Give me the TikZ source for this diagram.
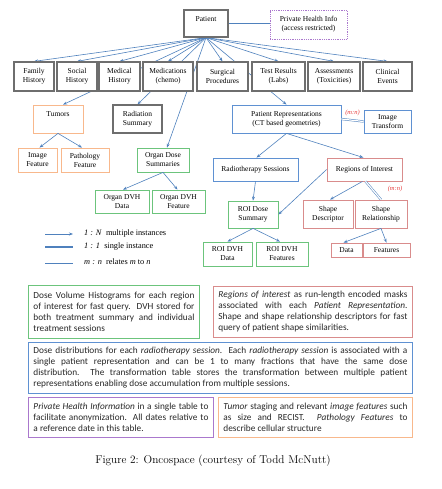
\documentclass[tikz,border=0pt]{standalone}
\usepackage{fontspec}
\newfontfamily\tnr{Liberation Serif}
\newfontfamily\clb{Carlito}
\usetikzlibrary{arrows.meta,backgrounds}
\definecolor{ablue}{RGB}{79,129,189}
\definecolor{bgray}{RGB}{110,110,110}
\definecolor{borange}{RGB}{248,184,140}
\definecolor{bgreen}{RGB}{108,196,124}
\definecolor{bblue}{RGB}{95,145,210}
\definecolor{bred}{RGB}{217,140,140}
\definecolor{bpurple}{RGB}{170,120,205}
\definecolor{mnred}{RGB}{230,60,60}
\definecolor{txt}{RGB}{40,40,40}
\tikzset{
  box/.style={draw, fill=white, inner sep=1pt, align=center, line width=0.8pt,
    font=\tnr\fontsize{7.5}{9}\selectfont},
  sz/.style 2 args={minimum width=#1pt, minimum height=#2pt},
  gbox/.style={box, draw=bgray, line width=1.2pt},
  obox/.style={box, draw=borange},
  grbox/.style={box, draw=bgreen},
  blbox/.style={box, draw=bblue},
  rbox/.style={box, draw=bred},
  pbox/.style={box, draw=bpurple, densely dotted, line width=0.9pt},
  arr/.style={draw=ablue, line width=0.6pt, -{Stealth[length=4pt,width=3pt]}},
  one/.style={draw=ablue, line width=1pt},
  mn/.style={draw=ablue, line width=0.5pt, double=white, double distance=1.2pt},
  mnlab/.style={text=mnred, font=\tnr\itshape\fontsize{6.5}{7}\selectfont, inner sep=0pt},
  leg/.style={anchor=west, inner sep=0pt, font=\tnr\fontsize{8.3}{9}\selectfont},
  note/.style={draw, fill=white, anchor=north west, line width=0.9pt, inner xsep=5pt, inner ysep=4pt,
    align=justify, font=\clb\fontsize{9.3}{11}\selectfont, text=txt},
}
\begin{document}
\begin{tikzpicture}[x=1pt,y=-1pt]
\useasboundingbox (0,0) rectangle (441,489);
% top
\node[box, draw=bgray, line width=1.2pt, sz={44}{27}] (patient) at (206,23.5) {Patient\\ \mbox{}};
\node[pbox, sz={77}{29}] (phi) at (308.5,24.5) {Private Health Info\\(access restricted)};
% row
\node[gbox, sz={40}{29}] (fam) at (34,76.5) {Family\\History};
\node[gbox, sz={40}{29}] (soc) at (77,76.5) {Social\\History};
\node[gbox, sz={41}{29}] (med) at (119.5,76.5) {Medical\\History};
\node[gbox, sz={50}{29}] (meds) at (168,76.5) {Medications\\(chemo)};
\node[gbox, sz={51}{29}] (surg) at (222.5,76.5) {Surgical\\Procedures};
\node[gbox, sz={53}{29}] (test) at (278.5,76.5) {Test Results\\(Labs)};
\node[gbox, sz={52}{29}] (assess) at (334,76.5) {Assessments\\(Toxicities)};
\node[gbox, sz={49}{29}] (clin) at (387.5,76.5) {Clinical\\Events};
% left branch
\node[obox, sz={50}{28}] (tumors) at (58,119) {Tumors\\ \mbox{}};
\node[obox, sz={39}{24}] (imgfeat) at (37.5,160) {Image\\Feature};
\node[obox, sz={48}{24}] (pathfeat) at (85,160) {Pathology\\Feature};
\node[gbox, sz={49}{28}] (radsum) at (137.5,119) {Radiation\\Summary};
\node[grbox, sz={52}{24}] (ods) at (163,160) {Organ Dose\\Summaries};
\node[grbox, sz={54}{23}] (odvhd) at (122,201.5) {Organ DVH\\Data};
\node[grbox, sz={53}{23}] (odvhf) at (178.5,201.5) {Organ DVH\\Feature};
% right branch
\node[blbox, sz={109}{28}] (pr) at (286.5,119) {Patient Representations\\(CT based geometries)};
\node[blbox, sz={47}{23}] (it) at (387.5,121.5) {Image\\Transform};
\node[mnlab] (mn1) at (352.5,113) {(m:n)};
\node[blbox, sz={85}{23}] (rts) at (255.5,169.5) {Radiotherapy Sessions};
\node[rbox, sz={75}{23}] (roi) at (364.5,169.5) {Regions of Interest};
\node[grbox, sz={50}{27}] (roids) at (253,214.5) {ROI Dose\\Summary};
\node[rbox, sz={50}{28}] (sd) at (328,214) {Shape\\Descriptor};
\node[rbox, sz={52}{28}] (sr) at (381,214) {Shape\\Relationship};
\node[mnlab] (mn2) at (395,189) {(m:n)};
\node[rbox, sz={31}{14}] (data) at (346.5,250) {Data};
\node[rbox, sz={47}{14}] (feat) at (386.5,250) {Features};
\node[grbox, sz={49}{24}] (rdvhd) at (227.5,254) {ROI DVH\\Data};
\node[grbox, sz={52}{24}] (rdvhf) at (282,254) {ROI DVH\\Features};
% connectors (behind boxes)
\begin{scope}[on background layer]
\draw[one] (patient.east) -- (patient.east -| phi.west);
\foreach \t in {fam,soc,med,meds,surg,test,assess,clin}
  \draw[arr] (patient.south) -- (\t.north);
\draw[arr] (patient.south) -- ([xshift=5pt]tumors.north);
\draw[arr] (patient.south) -- (radsum.north);
\draw[arr] (patient.south) -- ([xshift=4pt]ods.north);
\draw[arr] (patient.south) -- (pr.north);
\end{scope}
\draw[arr] (tumors.south) -- ([xshift=2pt]imgfeat.north);
\draw[arr] (tumors.south) -- ([xshift=-3pt]pathfeat.north);
\draw[arr] (ods.south) -- ([xshift=1pt]odvhd.north);
\draw[arr] (ods.south) -- ([xshift=-1pt]odvhf.north);
\draw[mn] (pr.east) -- (it.west);
\draw[arr] (pr.south) -- ([xshift=1pt]rts.north);
\draw[arr] (pr.south) -- ([xshift=-1pt]roi.north);
\draw[arr] (rts.south) -- (roids.north);
\draw[arr] (roi.west) -- (roids.east);
\draw[arr] ([xshift=-2pt]roi.south) -- ([xshift=2pt]sd.north);
\draw[mn] ([xshift=1pt]roi.south) -- (sr.north);
\draw[arr] (sr.south) -- ([xshift=-3pt]data.north);
\draw[arr] (sr.south) -- (feat.north);
\draw[arr] (roids.south) -- (rdvhd.north);
\draw[arr] (roids.south) -- ([xshift=-2pt]rdvhf.north);
% legend
\coordinate (la1) at (45,234); \coordinate (lb1) at (73,234);
\coordinate (la2) at (45,247); \coordinate (lb2) at (73,247);
\coordinate (la3) at (45,262); \coordinate (lb3) at (73,262);
\draw[arr] (la1) -- (lb1);
\draw[one, line width=1.3pt] (la2) -- (lb2);
\draw[mn, line width=0.9pt, double distance=1.2pt] (la3) -- (lb3);
\node[leg] (lt1) at (84,234) {\textit{1 : N}\ \ multiple instances};
\node[leg] (lt2) at (84,247) {\textit{1 : 1}\ \ single instance};
\node[leg] (lt3) at (84,262) {\textit{m : n}\ \ relates \textit{m} to \textit{n}};
% notes
\node[note, draw=bgreen, text width=161pt, minimum width=171pt, minimum height=53pt] (ngreen) at (28,285)
 {\noindent Dose Volume Histograms for each region\linebreak of interest for fast query.\ \ DVH stored for\linebreak both treatment summary and individual\linebreak treatment sessions};
\node[note, draw=bred, text width=189pt, minimum width=199pt, minimum height=51pt] (nred) at (213,286)
 {\noindent\textit{Regions of interest} as run-length encoded masks\linebreak associated with each \textit{Patient Representation}.\linebreak Shape and shape relationship descriptors for fast\linebreak query of patient shape similarities.};
\node[note, draw=bblue, text width=374pt, minimum width=384pt, minimum height=51pt] (nblue) at (28,342)
 {\noindent Dose distributions for each \textit{radiotherapy session}.\ \ Each \textit{radiotherapy session} is associated with a\linebreak single patient representation and can be 1 to many fractions that have the same dose\linebreak distribution.\ \ The transformation table stores the transformation between multiple patient\linebreak representations enabling dose accumulation from multiple sessions.};
\node[note, draw=bpurple, text width=175pt, minimum width=185pt, minimum height=40pt] (npurple) at (28,397)
 {\noindent\textit{Private Health Information} in a single table to\linebreak facilitate anonymization.\ \ All dates relative to\linebreak a reference date in this table.};
\node[note, draw=borange, text width=184pt, minimum width=194pt, minimum height=40pt] (norange) at (218,397)
 {\noindent\textit{Tumor} staging and relevant \textit{image features} such\linebreak as size and RECIST.\ \ \textit{Pathology Features} to\linebreak describe cellular structure};
% caption
\node[inner sep=0pt, font=\fontsize{11.3}{13}\selectfont] (cap) at (213,461) {Figure 2: Oncospace (courtesy of Todd McNutt)};
\end{tikzpicture}
\end{document}
